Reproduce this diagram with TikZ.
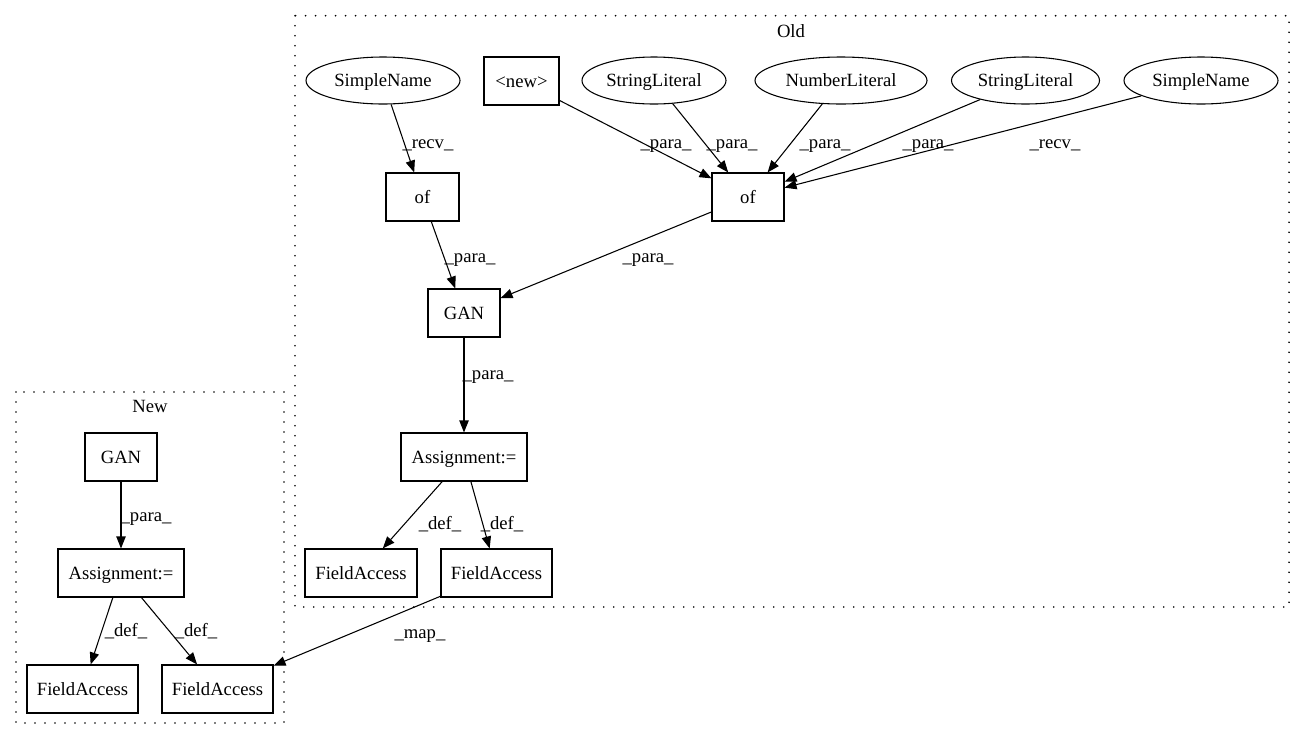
\documentclass[tikz,border=0pt]{standalone}
\usepackage{fontspec}
\setmainfont{Liberation Serif}
\usetikzlibrary{shapes.geometric,arrows.meta}
\begin{document}
\begin{tikzpicture}[x=0.75pt,y=-0.75pt,
  every node/.style={font=\fontsize{14}{16}\selectfont, inner sep=0pt, text height=12pt, text depth=3pt},
  box/.style={draw, rectangle, line width=0.8pt, minimum height=36pt},
  ell/.style={draw, ellipse, line width=0.8pt, minimum height=35.25pt},
  edge/.style={draw, line width=0.8pt, -{Triangle[length=9pt,width=7pt]}},
  lbl/.style={},
  cluster/.style={draw, line width=1.4pt, line cap=round, dash pattern=on 0pt off 7.5pt}
]
\useasboundingbox (0,0) rectangle (1305,740);

% clusters
\draw[cluster] (295,15.7) rectangle (1289,607);
\node (oldlbl) at (791,31) {Old};
\draw[cluster] (16,392) rectangle (284,723);
\node (newlbl) at (150,406) {New};

% Old nodes
\node[ell, minimum width=115.5pt] (sn1) at (383,80.5) {SimpleName};
\node[box, minimum width=56.25pt] (nw) at (521.5,81) {<new>};
\node[ell, minimum width=108pt] (sl1) at (654,80.5) {StringLiteral};
\node[ell, minimum width=129pt] (nl) at (841,80.5) {NumberLiteral};
\node[ell, minimum width=111pt] (sl2) at (1025.5,80.5) {StringLiteral};
\node[ell, minimum width=115.5pt] (sn2) at (1201,80.5) {SimpleName};
\node[box, minimum width=54.75pt] (ofL) at (422.5,197) {of};
\node[box, minimum width=54pt] (ofR) at (748,197) {of};
\node[box, minimum width=54pt] (ganO) at (464,313) {GAN};
\node[box, minimum width=94.5pt] (asO) at (464,457) {Assignment:=};
\node[box, minimum width=84pt] (faO1) at (361,573) {FieldAccess};
\node[box, minimum width=83.25pt] (faO2) at (496.5,573) {FieldAccess};

% New nodes
\node[box, minimum width=54pt] (ganN) at (121,457) {GAN};
\node[box, minimum width=94.5pt] (asN) at (121,573) {Assignment:=};
\node[box, minimum width=83.25pt] (faN1) at (82.5,689) {FieldAccess};
\node[box, minimum width=83.25pt] (faN2) at (217.5,689) {FieldAccess};

% edges
\draw[edge] (sn1) -- (ofL);
\draw[edge] (nw) -- (ofR);
\draw[edge] (sl1) -- (ofR);
\draw[edge] (nl) -- (ofR);
\draw[edge] (sl2) -- (ofR);
\draw[edge] (sn2) -- (ofR);
\draw[edge] (ofL) -- (ganO);
\draw[edge] (ofR) -- (ganO);
\draw[edge] (ganO) -- (asO);
\draw[edge] (asO) -- (faO1);
\draw[edge] (asO) -- (faO2);
\draw[edge] (faO2) -- (faN2);
\draw[edge] (ganN) -- (asN);
\draw[edge] (asN) -- (faN1);
\draw[edge] (asN) -- (faN2);

% edge labels
\node[lbl] (l1) at (428,142) {\_recv\_};
\node[lbl] (l2) at (666,142) {\_para\_};
\node[lbl] (l3) at (732,142) {\_para\_};
\node[lbl] (l4) at (825,142) {\_para\_};
\node[lbl] (l5) at (928,142) {\_para\_};
\node[lbl] (l6) at (1055,142) {\_recv\_};
\node[lbl] (l7) at (470,256) {\_para\_};
\node[lbl] (l8) at (648,256) {\_para\_};
\node[lbl] (l9) at (488,373) {\_para\_};
\node[lbl] (l10) at (440,523) {\_def\_};
\node[lbl] (l11) at (502,523) {\_def\_};
\node[lbl] (l12) at (420,632) {\_map\_};
\node[lbl] (l13) at (146,515) {\_para\_};
\node[lbl] (l14) at (126,630) {\_def\_};
\node[lbl] (l15) at (196,630) {\_def\_};
\end{tikzpicture}
\end{document}
